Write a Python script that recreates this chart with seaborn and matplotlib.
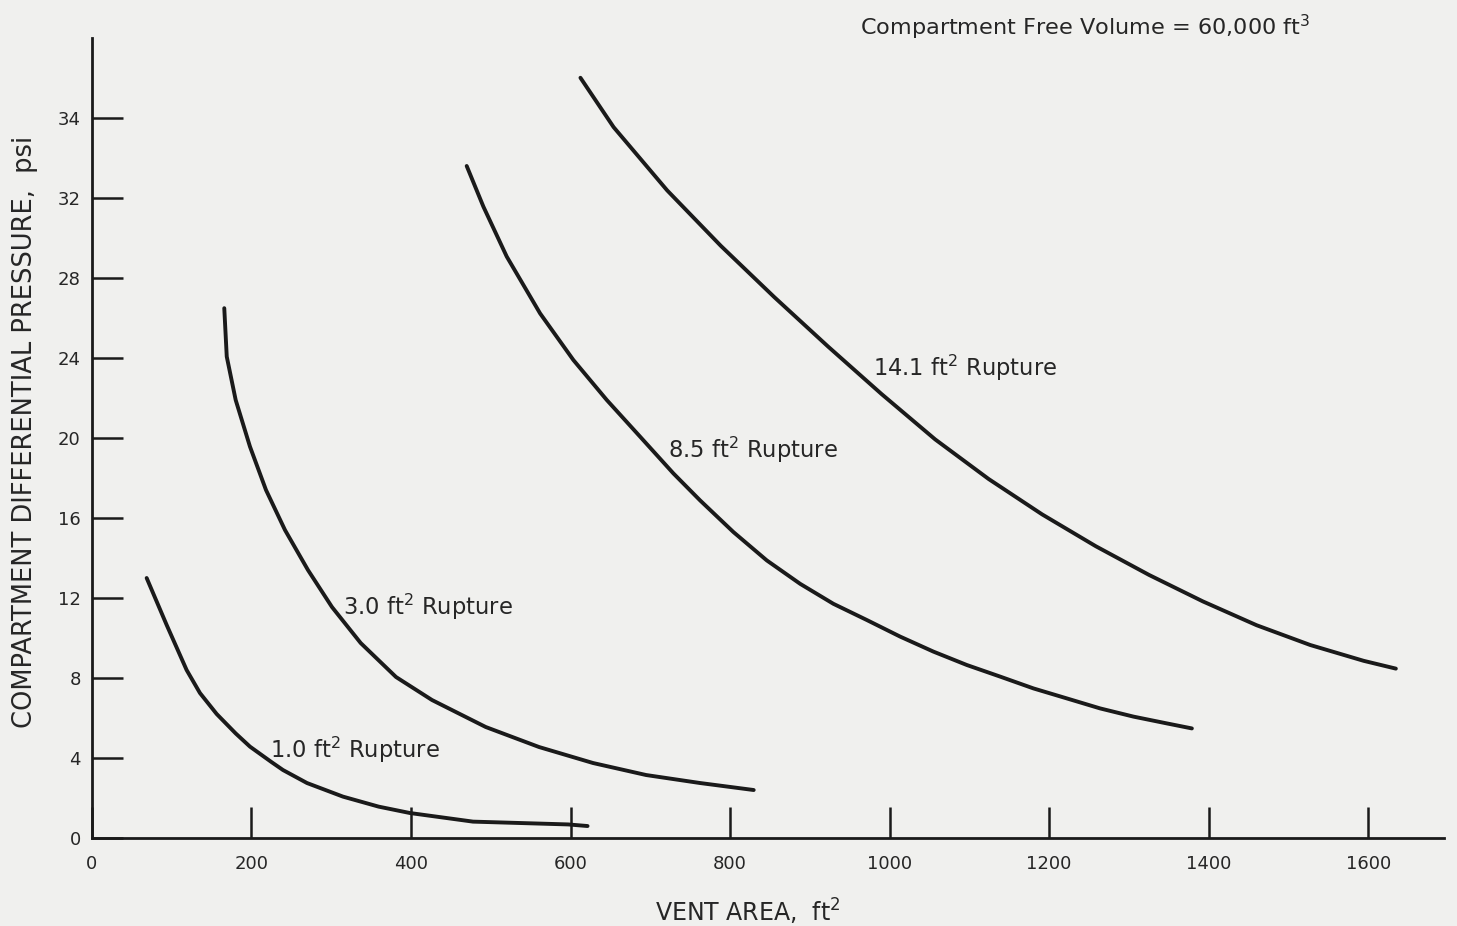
import matplotlib
matplotlib.use("Agg")
import matplotlib.pyplot as plt
import seaborn as sns
import pandas as pd

# Vent area (ft^2) vs. compartment differential pressure (psi) for each rupture size
area_1_0 = [68.6, 93.7, 118.7, 135.4, 156.4, 180.2, 198.1, 225.0, 239.5, 269.6,
            314.7, 359.4, 398.7, 477.7, 596.9, 621.3]
psi_1_0 = [13.0, 10.65, 8.4, 7.25, 6.2, 5.23, 4.57, 3.8, 3.4, 2.75,
           2.07, 1.57, 1.25, 0.82, 0.68, 0.6]

area_3_0 = [165.9, 169.0, 180.2, 198.1, 218.2, 242.0, 270.8, 300.9, 336.9, 381.2,
            426.3, 493.7, 560.5, 628.2, 694.7, 762.4, 829.6]
psi_3_0 = [26.49, 24.07, 21.9, 19.57, 17.4, 15.4, 13.4, 11.55, 9.75, 8.05,
           6.9, 5.55, 4.55, 3.75, 3.15, 2.75, 2.4]

area_8_5 = [469.8, 490.7, 520.0, 561.8, 603.5, 645.4, 687.1, 728.9, 762.4, 804.1,
            846.0, 887.8, 929.5, 971.4, 1013.2, 1054.9, 1096.8, 1138.6, 1180.3,
            1222.2, 1263.9, 1305.7, 1347.6, 1378.9]
psi_8_5 = [33.6, 31.57, 29.07, 26.23, 23.9, 21.9, 20.07, 18.23, 16.88, 15.3,
           13.88, 12.71, 11.71, 10.9, 10.07, 9.32, 8.65, 8.07, 7.48,
           6.98, 6.48, 6.07, 5.73, 5.48]

area_14_1 = [612.4, 654.0, 721.1, 788.3, 855.5, 922.6, 989.8, 1057.1, 1124.1,
             1191.2, 1258.4, 1325.4, 1392.7, 1460.0, 1527.3, 1594.2, 1634.6]
psi_14_1 = [38.01, 35.54, 32.38, 29.61, 27.04, 24.58, 22.2, 19.93, 17.95,
            16.18, 14.59, 13.15, 11.83, 10.64, 9.65, 8.86, 8.47]

rupture_names = ["1.0", "3.0", "8.5", "14.1"]

x_ticks = [0, 200, 400, 600, 800, 1000, 1200, 1400, 1600]
y_ticks = [0, 4, 8, 12, 16, 20, 24, 28, 32, 36]
y_tick_labels = ["0", "4", "8", "12", "16", "20", "24", "28", "32", "34"]

frames = []
for name, xs, ys in zip(rupture_names,
                        [area_1_0, area_3_0, area_8_5, area_14_1],
                        [psi_1_0, psi_3_0, psi_8_5, psi_14_1]):
    frames.append(pd.DataFrame({"vent_area": xs, "pressure": ys, "rupture": name}))
df = pd.concat(frames, ignore_index=True)

sns.set_theme(style="ticks")
plt.rcParams["font.family"] = ["DejaVu Sans"]
plt.rcParams["mathtext.fontset"] = "dejavusans"

bg = "#f0f0ee"
ink = "#1a1a1a"
txt = "#262626"
fig = plt.figure(figsize=(14.57, 9.26), dpi=100, facecolor=bg)
ax = fig.add_axes([0.0631, 0.0950, 0.9280, 0.8640], facecolor=bg)

sns.lineplot(data=df, x="vent_area", y="pressure", hue="rupture",
             palette={n: ink for n in rupture_names}, estimator=None,
             sort=False, legend=False, linewidth=2.8, ax=ax,
             solid_capstyle="round", solid_joinstyle="round")

ax.set_xlim(0, 1695)
ax.set_ylim(0, 40)

for side in ["top", "right"]:
    ax.spines[side].set_visible(False)
for side in ["left", "bottom"]:
    ax.spines[side].set_linewidth(2.0)
    ax.spines[side].set_color(ink)

ax.set_xticks(x_ticks)
ax.set_xticklabels([str(t) for t in x_ticks])
ax.set_yticks(y_ticks)
ax.set_yticklabels(y_tick_labels)
ax.tick_params(axis="both", direction="in", length=22, width=1.8, color=ink,
               labelsize=13, labelcolor=txt)
ax.tick_params(axis="x", pad=12)
ax.tick_params(axis="y", pad=8)

ax.set_xlabel(r"VENT AREA,  ft$^{2}$", fontsize=17, color=txt)
ax.xaxis.set_label_coords(0.485, -0.074)
ax.set_ylabel("COMPARTMENT DIFFERENTIAL PRESSURE,  psi", fontsize=18.5,
              color=txt)
ax.yaxis.set_label_coords(-0.040, 0.508)

label_style = dict(fontsize=16.3, color=txt, va="center", ha="left")
ax.text(979, 23.5, r"14.1 ft$^{2}$ Rupture", **label_style)
ax.text(722, 19.4, r"8.5 ft$^{2}$ Rupture", **label_style)
ax.text(315, 11.55, r"3.0 ft$^{2}$ Rupture", **label_style)
ax.text(223, 4.4, r"1.0 ft$^{2}$ Rupture", **label_style)

fig.text(0.590, 0.970, r"Compartment Free Volume = 60,000 ft$^{3}$",
         fontsize=16.1, color=txt, va="center", ha="left")

fig.savefig("out.png", dpi=100, facecolor=bg)
